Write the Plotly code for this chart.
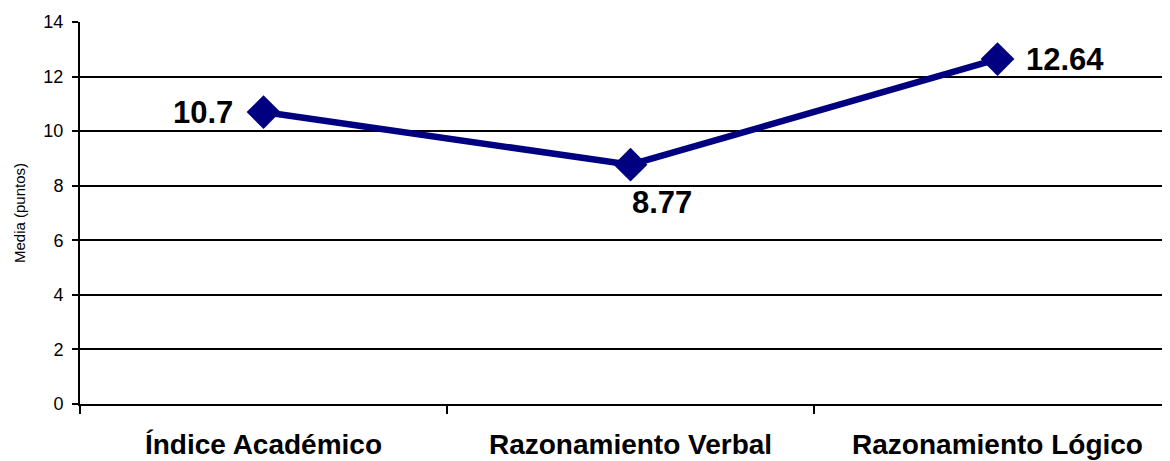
import plotly.graph_objects as go

categories = ["Índice Académico", "Razonamiento Verbal", "Razonamiento Lógico"]
values = [10.7, 8.77, 12.64]
labels = ["10.7", "8.77", "12.64"]
y_ticks = [0, 2, 4, 6, 8, 10, 12, 14]

fig = go.Figure()
fig.add_trace(go.Scatter(
    x=categories, y=values, mode="lines+markers",
    line=dict(color="#000080", width=6.5),
    marker=dict(symbol="diamond", size=26, color="#000080"),
    hoverinfo="skip", showlegend=False,
))

label_font = dict(family="Liberation Sans, Arial", size=31, color="black")
offsets = [(-29, 0, "right", "middle"), (-1, -18, "left", "top"), (26, 0, "left", "middle")]
for c, v, t, (dx, dy, xa, ya) in zip(categories, values, labels, offsets):
    fig.add_annotation(x=c, y=v, text="<b>%s</b>" % t, showarrow=False,
                       xanchor=xa, yanchor=ya, xshift=dx, yshift=dy, font=label_font)

fig.update_layout(
    width=1162, height=453,
    margin=dict(l=72, r=0, t=14, b=57),
    paper_bgcolor="white", plot_bgcolor="white",
    font=dict(family="Liberation Sans, Arial", color="black"),
    xaxis=dict(
        type="category", range=[-0.5, 2.47], tickson="boundaries",
        ticks="outside", ticklen=8, tickwidth=2, tickcolor="black",
        showline=True, linecolor="black", linewidth=2, automargin=False,
        showgrid=False, tickfont=dict(size=28, family="Liberation Sans, Arial"),
        ticklabelstandoff=14,
    ),
    yaxis=dict(
        range=[0, 14], tickvals=y_ticks, ticks="outside", ticklen=6,
        tickwidth=2, tickcolor="black", showline=True, linecolor="black",
        linewidth=2, showgrid=True, gridcolor="black", gridwidth=2,
        zeroline=False, tickfont=dict(size=18), ticklabelstandoff=5,
        automargin=False,
        title=dict(text="Media (puntos)", font=dict(size=15), standoff=14),
    ),
)
fig.update_xaxes(tickprefix="<b>", ticksuffix="</b>")
fig.write_html("out.html")
